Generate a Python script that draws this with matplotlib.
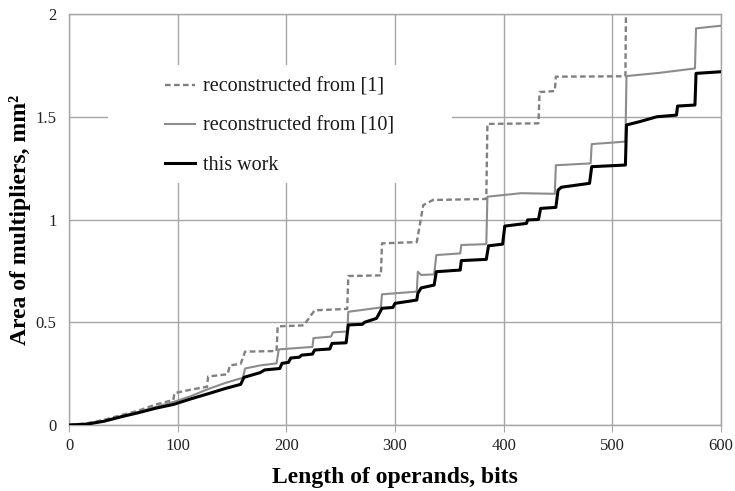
import matplotlib
matplotlib.use("Agg")
import matplotlib.pyplot as plt
from matplotlib.patches import Rectangle
from matplotlib.ticker import FuncFormatter

# ---- data ----
ref1_x = [0, 16, 32, 48, 64, 80, 96, 97, 112, 127, 128, 146, 148, 158, 162, 191, 192, 216, 226,
          256, 257, 287, 288, 320, 326, 335, 384, 385, 432, 433, 447, 448, 512, 513]
ref1_y = [0, 0.008, 0.025, 0.048, 0.07, 0.1, 0.122, 0.155, 0.172, 0.186, 0.236, 0.247, 0.29,
          0.298, 0.357, 0.36, 0.48, 0.485, 0.558, 0.565, 0.725, 0.728, 0.884, 0.89, 1.07, 1.095,
          1.1, 1.465, 1.468, 1.62, 1.625, 1.695, 1.697, 2.3]

ref10_x = [0, 16, 32, 48, 64, 80, 96, 112, 128, 144, 160, 162, 176, 191, 193, 224, 225, 241, 243,
           256, 257, 287, 288, 320, 321, 324, 336, 338, 360, 361, 384, 385, 416, 447, 448, 480,
           481, 512, 513, 544, 576, 577, 600]
ref10_y = [0, 0.006, 0.02, 0.042, 0.064, 0.088, 0.112, 0.14, 0.175, 0.205, 0.23, 0.275, 0.29,
           0.30, 0.368, 0.38, 0.423, 0.43, 0.451, 0.455, 0.551, 0.572, 0.636, 0.649, 0.746, 0.73,
           0.733, 0.827, 0.835, 0.876, 0.88, 1.111, 1.128, 1.125, 1.264, 1.273, 1.367, 1.379,
           1.698, 1.714, 1.735, 1.93, 1.943]

work_x = [0, 16, 32, 48, 64, 80, 96, 112, 128, 144, 158, 161, 176, 180, 194, 196, 202, 204, 212,
          214, 224, 226, 240, 242, 255, 257, 270, 272, 283, 288, 298, 300, 320, 321, 324, 336,
          338, 360, 361, 384, 386, 399, 401, 421, 422, 432, 434, 448, 450, 453, 479, 481, 512,
          513, 525, 541, 559, 560, 576, 577, 600]
work_y = [0, 0.004, 0.018, 0.04, 0.06, 0.082, 0.1, 0.127, 0.152, 0.178, 0.198, 0.232, 0.255,
          0.268, 0.275, 0.30, 0.305, 0.326, 0.33, 0.34, 0.345, 0.365, 0.37, 0.397, 0.40, 0.487,
          0.49, 0.5, 0.519, 0.568, 0.572, 0.592, 0.608, 0.641, 0.667, 0.681, 0.746, 0.754, 0.80,
          0.806, 0.872, 0.88, 0.968, 0.981, 0.998, 1.0, 1.054, 1.059, 1.143, 1.157, 1.176, 1.257,
          1.265, 1.46, 1.476, 1.50, 1.508, 1.552, 1.557, 1.711, 1.719]

labels = ["reconstructed from [1]", "reconstructed from [10]", "this work"]
x_ticks = [0, 100, 200, 300, 400, 500, 600]
y_ticks = [0, 0.5, 1, 1.5, 2]

plt.rcParams['font.family'] = ['Liberation Serif', 'DejaVu Serif']

fig = plt.figure(figsize=(7.35, 4.91), dpi=100)
ax = fig.add_axes([0.0939, 0.1344, 0.8871, 0.8371])

grid_c = '#a6a6a6'
ax.set_xlim(0, 600)
ax.set_ylim(0, 2)
ax.set_xticks(x_ticks)
ax.set_yticks(y_ticks)
ax.yaxis.set_major_formatter(FuncFormatter(lambda v, p: '%g' % v))
ax.grid(True, color=grid_c, linewidth=1.0)
ax.set_axisbelow(True)
for s in ax.spines.values():
    s.set_color(grid_c)
    s.set_linewidth(1.0)
ax.tick_params(axis='x', direction='out', length=5, color=grid_c, labelsize=12, pad=4,
               labelcolor='#222222')
ax.tick_params(axis='y', length=0, labelsize=12, pad=9, labelcolor='#222222')

ax.add_patch(Rectangle((0.06, 0.589), 0.527, 0.287, transform=ax.transAxes,
                       facecolor='white', edgecolor='none', zorder=1.8))

l1, = ax.plot(ref1_x, ref1_y, color='#808080', linewidth=1.7, linestyle=(0, (2.4, 1.4)),
              zorder=3, label=labels[0])
l2, = ax.plot(ref10_x, ref10_y, color='#8c8c8c', linewidth=1.5, zorder=3, label=labels[1])
l3, = ax.plot(work_x, work_y, color='black', linewidth=2.2, zorder=4, label=labels[2])

leg = ax.legend(handles=[l1, l2, l3], loc='upper left', bbox_to_anchor=(0.135, 0.865),
                frameon=False, fontsize=14.5, handlelength=1.5, handletextpad=0.4,
                labelspacing=1.0, borderaxespad=0)
for t in leg.get_texts():
    t.set_color('#1a1a1a')
leg.set_zorder(6)

ax.set_xlabel('Length of operands, bits', fontsize=17, fontweight='bold', labelpad=10)
ax.set_ylabel('Area of multipliers, mm²', fontsize=17, fontweight='bold', labelpad=3)

fig.savefig('out.png', dpi=100)
